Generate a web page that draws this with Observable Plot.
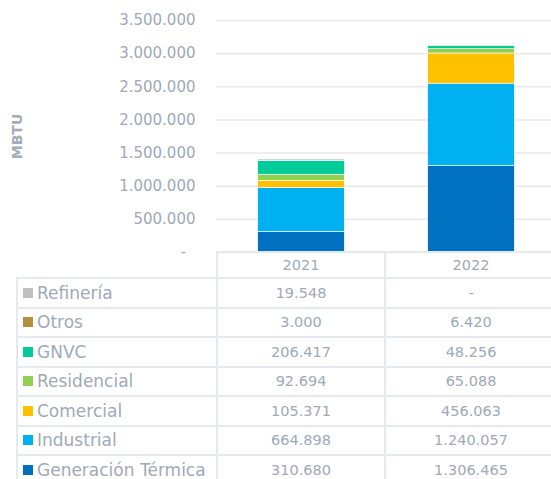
<!DOCTYPE html>
<html>
<head>
<meta charset="utf-8">
<script src="https://cdn.jsdelivr.net/npm/d3@7"></script>
<script src="https://cdn.jsdelivr.net/npm/@observablehq/plot@0.6"></script>
<style>
  html, body { margin: 0; padding: 0; background: #fff; }
  #wrap { position: relative; width: 551px; height: 479px; overflow: hidden; font-family: "DejaVu Sans", sans-serif; color: #a0a9b6; }
  #wrap svg { position: absolute; left: 0; top: 0; }
  .cell { position: absolute; box-sizing: border-box; border: 2px solid #e6e9ed; display: flex; align-items: center; }
  .num { justify-content: center; font-size: 14.5px; }
  .lab { font-size: 17px; padding-left: 5px; white-space: nowrap; }
  .sw { width: 10px; height: 10px; margin-right: 4px; flex: none; }
</style>
</head>
<body>
<div id="wrap"></div>
<script>
const years = ["2021", "2022"];
const sectors = ["Generación Térmica", "Industrial", "Comercial", "Residencial", "GNVC", "Otros", "Refinería"];
const colors = ["#0070C0", "#00B0F0", "#FFC000", "#92D050", "#00CC99", "#B08F40", "#BFBFBF"];
const values2021 = [310680, 664898, 105371, 92694, 206417, 3000, 19548];
const values2022 = [1306465, 1240057, 456063, 65088, 48256, 6420, 0];
const yTicks = [0, 500000, 1000000, 1500000, 2000000, 2500000, 3000000, 3500000];
const axisLabel = "MBTU";

const data = [];
sectors.forEach((s, i) => {
  data.push({year: years[0], sector: s, value: values2021[i]});
  data.push({year: years[1], sector: s, value: values2022[i]});
});

const fmt = v => v === 0 ? "-" : d3.format(",")(v).replace(/,/g, ".");
const textColor = "#a0a9b6";

const chart = Plot.plot({
  width: 551,
  height: 262,
  marginLeft: 216,
  marginRight: 0,
  marginTop: 20,
  marginBottom: 10,
  x: {domain: years, range: [216, 556], padding: 0, axis: null},
  y: {domain: [0, 3500000], axis: null},
  color: {domain: sectors, range: colors},
  style: {fontFamily: "DejaVu Sans", fontSize: "15px", color: textColor, background: "transparent", overflow: "visible"},
  marks: [
    Plot.gridY(yTicks, {stroke: "#e6e9ed", strokeOpacity: 1, strokeWidth: 1.5}),
    Plot.axisY(yTicks, {tickSize: 0, tickPadding: 21, fontSize: 15, label: null,
      tickFormat: d => d === 0 ? "-\u2007" : fmt(d)}),
    Plot.barY(data, {x: "year", y: "value", fill: "sector", stroke: "white", strokeWidth: 0.6,
      insetLeft: 41.7, insetRight: 41.7}),
    Plot.text([axisLabel], {frameAnchor: "left", dx: -199, rotate: -90, textAnchor: "middle",
      fontWeight: "bold", fontSize: 14, fill: "#a3acb9"})
  ]
});
const wrap = document.getElementById("wrap");
wrap.appendChild(chart);

// Data table below the chart
const colX = [16, 216, 384];
const colW = [202, 170, 174];
function cell(cls, left, top, w, h, content) {
  const d = document.createElement("div");
  d.className = "cell " + cls;
  d.style.left = left + "px";
  d.style.top = top + "px";
  d.style.width = w + "px";
  d.style.height = h + "px";
  if (typeof content === "string") d.textContent = content; else d.appendChild(content);
  wrap.appendChild(d);
  return d;
}
years.forEach((y, j) => cell("num", colX[j + 1], 251, colW[j + 1], 28, y));
const rowOrder = d3.range(sectors.length).reverse();
rowOrder.forEach((si, r) => {
  const top = 277 + r * 29.5;
  const h = 31.5;
  const frag = document.createElement("span");
  frag.style.display = "flex";
  frag.style.alignItems = "center";
  const sw = document.createElement("span");
  sw.className = "sw";
  sw.style.background = colors[si];
  const t = document.createElement("span");
  t.textContent = sectors[si];
  frag.appendChild(sw); frag.appendChild(t);
  cell("lab", colX[0], top, colW[0], h, frag);
  cell("num", colX[1], top, colW[1], h, fmt(values2021[si]));
  cell("num", colX[2], top, colW[2], h, fmt(values2022[si]));
});
</script>
</body>
</html>
